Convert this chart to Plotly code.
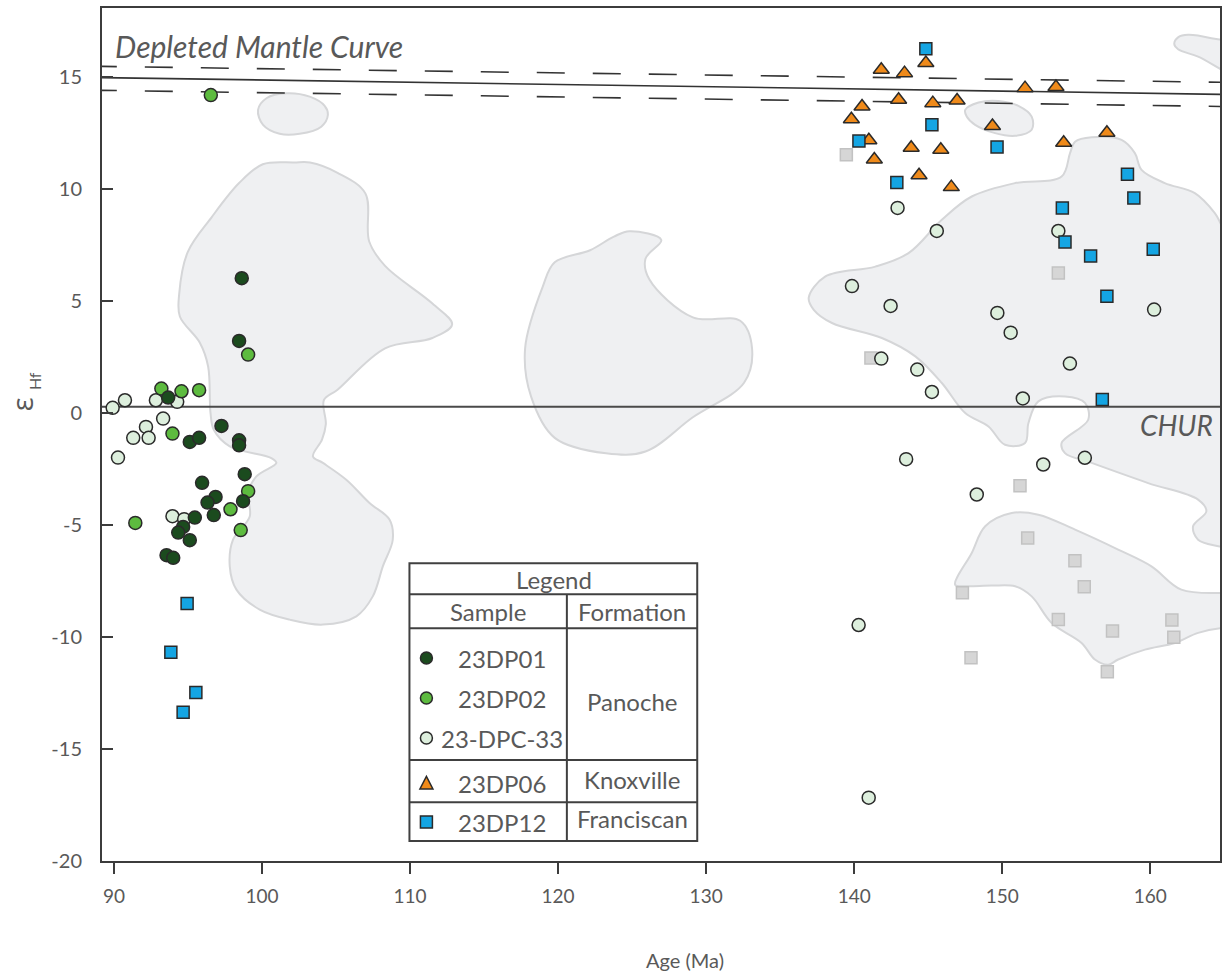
import plotly.graph_objects as go

# ---------------- data (age in Ma, epsilon Hf) ----------------
dp01_age = [98.63, 98.45, 93.66, 97.26, 95.12, 95.75, 98.45, 98.45, 98.83, 95.95,
            96.86, 96.32, 98.72, 96.74, 95.46, 94.67, 94.34, 95.12, 93.55, 94.00]
dp01_eps = [6.03, 3.23, 0.70, -0.57, -1.28, -1.10, -1.21, -1.43, -2.72, -3.11,
            -3.74, -3.99, -3.93, -4.55, -4.66, -5.08, -5.33, -5.67, -6.34, -6.46]

dp02_age = [96.54, 99.06, 93.20, 94.56, 95.75, 93.95, 99.06, 97.87, 91.44, 98.56]
dp02_eps = [14.21, 2.62, 1.10, 0.98, 1.03, -0.91, -3.48, -4.29, -4.90, -5.22]

dpc33_age = [89.91, 90.74, 92.83, 94.27, 93.32, 92.16, 91.30, 92.34, 90.27, 93.95, 94.74,
             142.93, 145.58, 153.79, 139.85, 142.46, 149.67, 160.26, 150.57, 141.83,
             144.26, 154.57, 145.25, 151.39, 143.51, 152.77, 155.58, 148.28, 140.30, 140.98]
dpc33_eps = [0.24, 0.58, 0.58, 0.51, -0.24, -0.61, -1.10, -1.10, -1.98, -4.60, -4.73,
             9.17, 8.14, 8.14, 5.68, 4.79, 4.48, 4.63, 3.60, 2.44,
             1.95, 2.22, 0.95, 0.66, -2.05, -2.29, -1.99, -3.63, -9.46, -17.17]

dp06_age = [141.83, 143.40, 144.84, 151.54, 153.63, 143.00, 140.53, 145.31, 146.95, 139.81,
            149.34, 140.99, 157.07, 154.15, 143.85, 145.85, 141.36, 144.38, 146.56]
dp06_eps = [15.34, 15.19, 15.64, 14.52, 14.57, 14.00, 13.70, 13.85, 13.97, 13.13,
            12.83, 12.19, 12.53, 12.08, 11.86, 11.77, 11.33, 10.63, 10.10]

dp12_age = [144.84, 145.25, 140.32, 149.65, 142.88, 158.46, 158.89, 154.06, 154.24, 155.97,
            160.20, 157.07, 156.76, 94.94, 93.84, 95.53, 94.67]
dp12_eps = [16.28, 12.89, 12.16, 11.89, 10.31, 10.67, 9.61, 9.17, 7.65, 7.02,
            7.32, 5.22, 0.61, -8.50, -10.68, -12.47, -13.36]

grey_age = [139.47, 153.79, 141.13, 151.20, 151.72, 154.91, 155.54, 147.31, 153.79, 157.45,
            161.46, 161.59, 147.89, 157.10]
grey_eps = [11.55, 6.26, 2.47, -3.24, -5.57, -6.59, -7.75, -8.02, -9.21, -9.73,
            -9.24, -10.01, -10.92, -11.55]

# reference curves
dm_age = [88.3, 166.0]
dm_eps = [15.00, 14.23]
dm_hi_eps = [15.50, 14.77]
dm_lo_eps = [14.43, 13.69]
chur_age = [88.0, 166.0]
chur_eps = [0.29, 0.29]

# background fields (outlines: age, eps)
field1_age = [99.73, 100.30, 101.65, 103.22, 104.23, 104.45, 104.00, 102.54, 101.19, 100.07]
field1_eps = [13.55, 14.07, 14.29, 14.14, 13.73, 13.33, 12.80, 12.48, 12.48, 12.88]

field2_age = [102.18, 103.24, 105.10, 106.98, 107.24, 108.31, 111.51, 112.84, 111.51, 108.31,
              105.10, 104.18, 104.31, 104.05, 103.44, 104.11, 105.69, 107.26, 108.61, 108.83,
              108.16, 107.48, 106.37, 104.11, 101.87, 99.84, 98.27, 97.82, 98.04, 99.17,
              99.06, 99.62, 100.97, 100.63, 97.82, 96.74, 96.52, 96.36, 95.80, 94.45,
              94.40, 94.98, 96.58, 98.45, 100.05]
field2_eps = [11.20, 11.20, 10.74, 9.82, 7.67, 6.58, 4.90, 3.97, 3.36, 2.90,
              1.05, 0.59, -0.49, -1.18, -1.93, -2.22, -2.97, -4.01, -4.75, -5.65,
              -6.84, -8.18, -9.07, -9.44, -9.22, -8.77, -7.88, -6.84, -5.65, -4.61,
              -3.56, -2.82, -2.22, -2.00, -1.48, -0.74, 0.02, 2.09, 3.15, 4.32,
              5.30, 7.20, 8.74, 10.28, 11.12]

field3_age = [124.83, 126.97, 125.90, 126.17, 129.10, 132.30, 133.10, 132.56, 129.10, 125.90,
              123.24, 119.77, 118.17, 117.77, 118.97, 119.77, 122.16, 123.77]
field3_eps = [8.13, 7.74, 6.90, 5.97, 4.28, 4.13, 2.90, 1.36, -0.18, -1.71,
              -1.79, -1.10, 0.75, 2.90, 5.67, 6.74, 7.28, 7.89]

field4_age = [136.93, 138.06, 141.43, 143.67, 145.92, 147.94, 150.87, 154.01, 154.58, 154.92,
              156.04, 158.06, 158.96, 159.41, 160.98, 163.01, 164.36, 165.25, 167.0, 167.0,
              164.69, 163.23, 162.89, 163.79, 163.23, 159.86, 156.04, 154.24, 154.01, 155.81,
              155.59, 154.24, 152.44, 151.77, 151.54, 150.19, 149.07, 147.50, 145.92, 144.13,
              141.87, 138.50, 137.27]
field4_eps = [5.16, 6.11, 6.55, 7.15, 8.64, 9.68, 10.28, 10.57, 11.62, 12.13,
              12.33, 12.21, 11.62, 10.87, 10.28, 9.83, 8.94, 7.97, 7.5, -6.2,
              -5.95, -5.65, -5.05, -4.38, -3.86, -3.12, -2.22, -1.78, -1.33, -0.29,
              0.46, 0.75, 0.53, -0.44, -1.33, -1.41, -0.59, 0.01, 1.35, 2.54,
              3.36, 4.03, 4.62]

field5_age = [147.50, 148.40, 149.74, 151.09, 151.99, 151.99, 150.87, 149.52, 148.17, 147.60]
field5_eps = [13.55, 13.88, 13.95, 13.73, 13.25, 12.66, 12.39, 12.51, 12.88, 13.25]

field6_age = [161.62, 161.90, 162.56, 164.13, 166.0, 166.0, 163.23, 161.88]
field6_eps = [16.49, 16.80, 16.90, 16.75, 16.40, 15.10, 15.93, 16.26]

field7_age = [146.82, 147.94, 148.85, 150.64, 152.44, 154.92, 157.83, 160.08, 162.10, 164.91,
              165.9, 165.9, 164.91, 163.23, 161.66, 159.64, 157.83, 157.16, 156.26, 155.36,
              153.34, 151.99, 150.87, 149.29, 147.50]
field7_eps = [-7.66, -6.24, -5.05, -4.46, -4.53, -5.20, -6.09, -6.84, -7.88, -8.03,
              -8.0, -9.6, -9.59, -9.81, -10.26, -10.56, -11.00, -11.23, -11.00, -10.26,
              -9.37, -8.18, -7.73, -7.70, -7.73]

fields = [(field1_age, field1_eps), (field2_age, field2_eps), (field3_age, field3_eps),
          (field4_age, field4_eps), (field5_age, field5_eps), (field6_age, field6_eps),
          (field7_age, field7_eps)]

x_ticks = [90, 100, 110, 120, 130, 140, 150, 160]
y_ticks = [-20, -15, -10, -5, 0, 5, 10, 15]
y_tick_text = ["-20", "-15", "-10", "-5", "0", "5", "10", "15"]

# ---------------- styling ----------------
W, H = 1225, 974
ML, MR, MT, MB = 102, 3, 8, 113
PW, PH = W - ML - MR, H - MT - MB
TXT = "#595959"
AX = "#3c3c3c"
FONT = "Lato"


def px(x):
    return (x - ML) / PW


def py(y):
    return (H - MB - y) / PH


fig = go.Figure()

for fa, fe in fields:
    fig.add_trace(go.Scatter(
        x=fa + fa[:1], y=fe + fe[:1], mode="lines", fill="toself",
        fillcolor="#eff0f2", line=dict(color="#d5d6d8", width=2, shape="spline", smoothing=1.0),
        hoverinfo="skip", showlegend=False))

# CHUR and depleted mantle
fig.add_trace(go.Scatter(x=chur_age, y=chur_eps, mode="lines",
                         line=dict(color="#4a4a4a", width=2), showlegend=False, hoverinfo="skip"))
fig.add_trace(go.Scatter(x=dm_age, y=dm_eps, mode="lines",
                         line=dict(color="#333333", width=1.6), showlegend=False, hoverinfo="skip"))
for e in (dm_hi_eps, dm_lo_eps):
    fig.add_trace(go.Scatter(x=dm_age, y=e, mode="lines",
                             line=dict(color="#333333", width=1.6, dash="28px,28px"),
                             showlegend=False, hoverinfo="skip"))

MLINE = dict(color="#2a2a2a", width=1.5)
fig.add_trace(go.Scatter(x=grey_age, y=grey_eps, mode="markers", showlegend=False,
                         marker=dict(symbol="square", size=12, color="#d6d6d6",
                                     line=dict(color="#c2c2c2", width=1.5))))
fig.add_trace(go.Scatter(x=dpc33_age, y=dpc33_eps, mode="markers", name="23-DPC-33", showlegend=False,
                         marker=dict(symbol="circle", size=13, color="#ddefdd", line=MLINE)))
fig.add_trace(go.Scatter(x=dp02_age, y=dp02_eps, mode="markers", name="23DP02", showlegend=False,
                         marker=dict(symbol="circle", size=13, color="#5dbb3f", line=MLINE)))
fig.add_trace(go.Scatter(x=dp01_age, y=dp01_eps, mode="markers", name="23DP01", showlegend=False,
                         marker=dict(symbol="circle", size=13, color="#1b4b1e", line=MLINE)))
fig.add_trace(go.Scatter(x=dp06_age, y=dp06_eps, mode="markers", name="23DP06", showlegend=False,
                         marker=dict(symbol="triangle-up", size=14, color="#ef8a1a", line=MLINE)))
fig.add_trace(go.Scatter(x=dp12_age, y=dp12_eps, mode="markers", name="23DP12", showlegend=False,
                         marker=dict(symbol="square", size=12, color="#14a5e3", line=MLINE)))

# ---------------- legend table ----------------
shapes = []
LW = dict(color="#404040", width=2)
L0, L1, T0, T1 = 410, 698.3, 563.3, 841
shapes.append(dict(type="rect", xref="paper", yref="paper", x0=px(L0), x1=px(L1),
                   y0=py(T1), y1=py(T0), line=LW, fillcolor="white"))
for yy in (594.3, 628.3, 760, 802.3):
    shapes.append(dict(type="line", xref="paper", yref="paper", x0=px(L0), x1=px(L1),
                       y0=py(yy), y1=py(yy), line=LW))
shapes.append(dict(type="line", xref="paper", yref="paper", x0=px(567.7), x1=px(567.7),
                   y0=py(594.3), y1=py(T1), line=LW))

MKX = 427
r = 6
for yy, col in ((658, "#1b4b1e"), (698, "#5dbb3f"), (738, "#ddefdd")):
    shapes.append(dict(type="circle", xref="paper", yref="paper", x0=px(MKX - r), x1=px(MKX + r),
                       y0=py(yy + r), y1=py(yy - r), fillcolor=col, line=dict(color="#2a2a2a", width=1.5)))
ty = 783
shapes.append(dict(type="path", xref="paper", yref="paper",
                   path=f"M {px(MKX-6.5)} {py(ty+6)} L {px(MKX+6.5)} {py(ty+6)} L {px(MKX)} {py(ty-6.5)} Z",
                   fillcolor="#ef8a1a", line=dict(color="#2a2a2a", width=1.5)))
sy = 822
shapes.append(dict(type="rect", xref="paper", yref="paper", x0=px(MKX - 6), x1=px(MKX + 6),
                   y0=py(sy + 6), y1=py(sy - 6), fillcolor="#14a5e3", line=dict(color="#2a2a2a", width=1.5)))

ann = []


def ptxt(text, x, y, size, xanchor="center", italic=False, family=FONT, angle=0):
    ann.append(dict(text=text, xref="paper", yref="paper", x=px(x), y=py(y), showarrow=False,
                    xanchor=xanchor, yanchor="middle", textangle=angle,
                    font=dict(family=family, size=size, color=TXT,
                              style="italic" if italic else "normal")))


LF = 24
ptxt("Legend", 555, 579, LF)
ptxt("Sample", 489, 611, LF)
ptxt("Formation", 633, 611, LF)
ptxt("23DP01", 503, 658, LF)
ptxt("23DP02", 503, 698, LF)
ptxt("23-DPC-33", 503, 738, LF)
ptxt("Panoche", 633, 701, LF)
ptxt("23DP06", 503, 783, LF)
ptxt("Knoxville", 633, 779, LF)
ptxt("23DP12", 503, 822, LF)
ptxt("Franciscan", 633, 818, LF)

# axis titles
ptxt("Age (Ma)", 686, 960, 20)
ptxt("ε", 22, 404, 29, family="Open Sans", angle=-90)
ptxt("Hf", 34, 381, 16, angle=-90)

# in-plot labels
ann.append(dict(text="Depleted Mantle Curve", x=89.93, y=16.41, xref="x", yref="y", showarrow=False,
                xanchor="left", yanchor="middle",
                font=dict(family=FONT, size=30, color=TXT, style="italic")))
ann.append(dict(text="CHUR", x=164.38, y=-0.54, xref="x", yref="y", showarrow=False,
                xanchor="right", yanchor="middle",
                font=dict(family=FONT, size=28, color=TXT, style="italic")))

fig.update_layout(
    width=W, height=H,
    margin=dict(l=ML, r=MR, t=MT, b=MB),
    paper_bgcolor="white", plot_bgcolor="white",
    shapes=shapes, annotations=ann, showlegend=False,
    xaxis=dict(range=[89.19, 164.71], tickvals=x_ticks, showgrid=False, zeroline=False,
               showline=True, linecolor=AX, linewidth=2, mirror=True,
               ticks="outside", ticklen=11, tickwidth=2, tickcolor=AX,
               ticklabelstandoff=6,
               tickfont=dict(family=FONT, size=19, color=TXT)),
    yaxis=dict(range=[-20, 18.1], tickvals=y_ticks, ticktext=y_tick_text,
               showgrid=False, zeroline=False,
               showline=True, linecolor=AX, linewidth=2, mirror=True,
               ticks="inside", ticklen=11, tickwidth=2, tickcolor=AX,
               ticklabelstandoff=14,
               tickfont=dict(family=FONT, size=20, color=TXT)),
)

fig.write_html("out.html", config={"displayModeBar": False},
               post_script="document.body.style.margin='0';document.body.style.overflow='hidden';")
